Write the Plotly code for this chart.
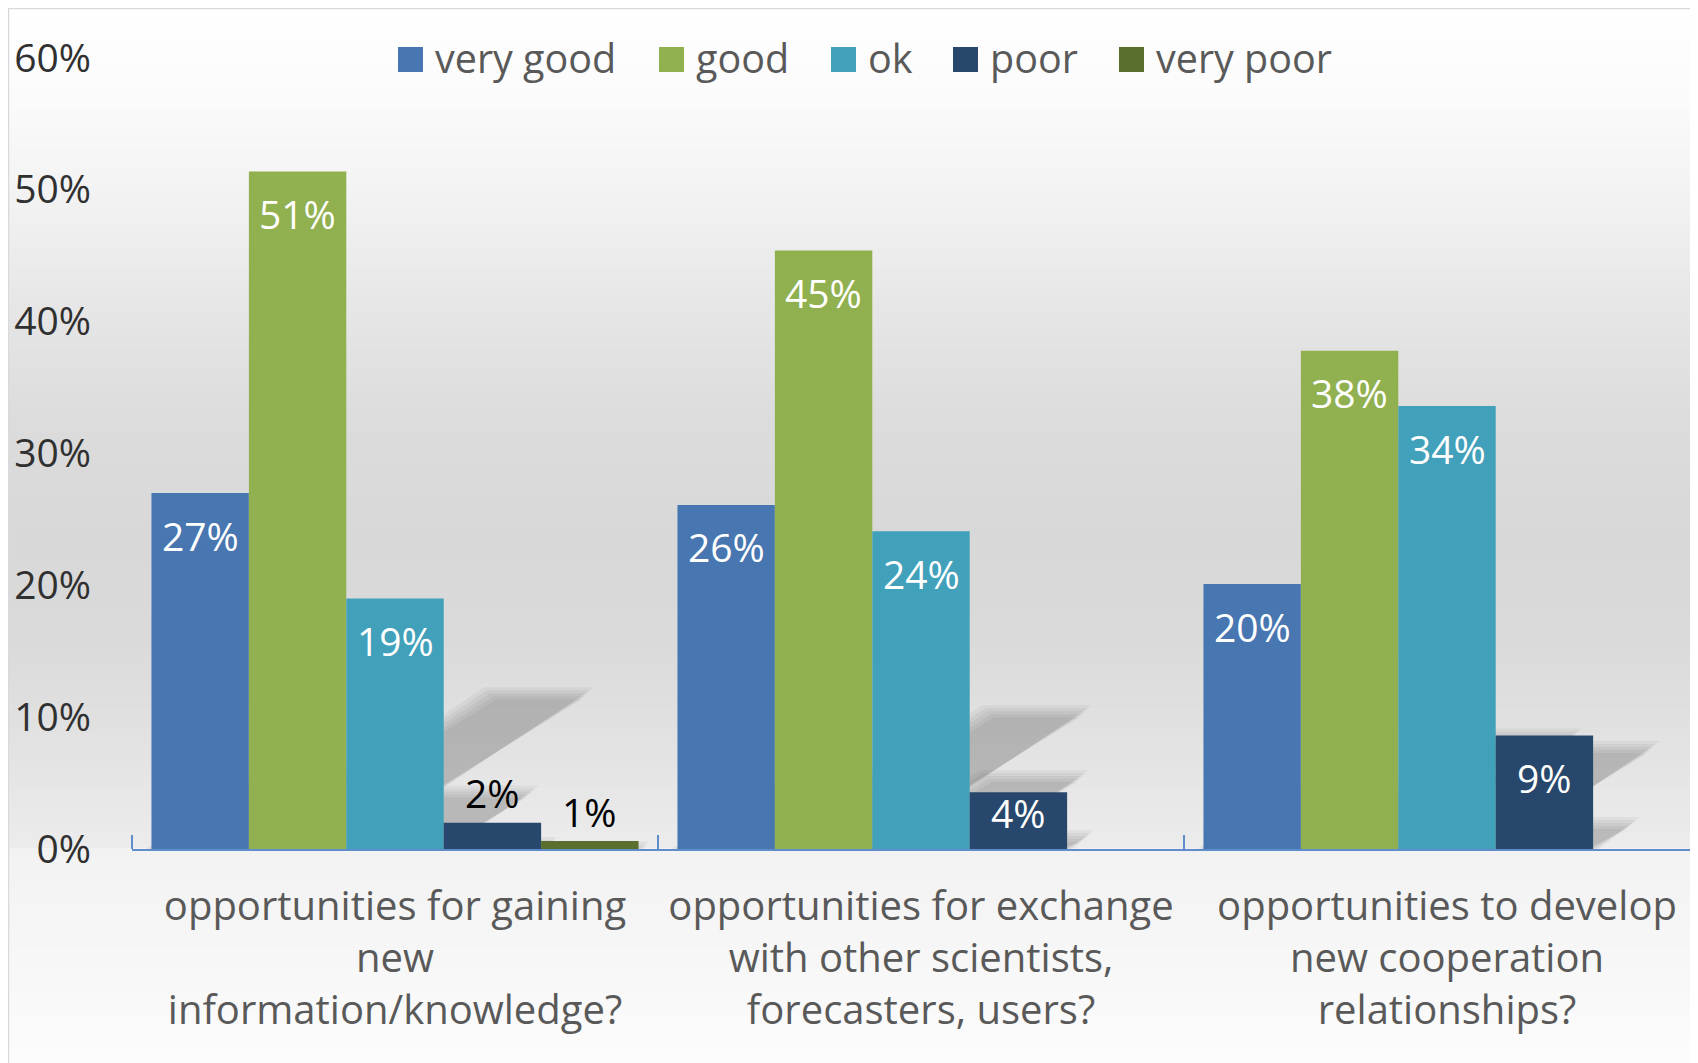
import plotly.graph_objects as go

# ── Data ─────────────────────────────────────────────────────────

categories = [
    "opportunities for gaining<br>new<br>information/knowledge?",
    "opportunities for exchange<br>with other scientists,<br>forecasters, users?",
    "opportunities to develop<br>new cooperation<br>relationships?",
]
series_names = ["very good", "good", "ok", "poor", "very poor"]
very_good = [27.0, 26.1, 20.1]
good = [51.4, 45.4, 37.8]
ok = [19.0, 24.1, 33.6]
poor = [2.0, 4.3, 8.6]
very_poor = [0.6, None, None]
y_ticks = [0, 10, 20, 30, 40, 50, 60]
y_tick_labels = ["0%", "10%", "20%", "30%", "40%", "50%", "60%"]

series_values = [very_good, good, ok, poor, very_poor]
series_colors = ["#4776b1", "#91b04f", "#41a0ba", "#28476c", "#5a6f2e"]

# ── Geometry (page pixels; the page body adds an 8px margin) ────

W, H = 1698, 1063
BODY = 8
PL, PT, PB = 132, 58, 849          # plot left / top / axis line
CAT_PX = 526                       # width of one category
BARGAP = 0.074
N_SER = len(series_names)
SLOT = (1 - BARGAP) / N_SER
PX_Y = (PB - PT) / y_ticks[-1]
FONT = "Open Sans, Segoe UI, sans-serif"


def paper_x(px):
    return (px - PL) / (W - PL)


def paper_y(py):
    return (PB - py) / (PB - PT)


def _gray(py):
    # chart-area gradient: white -> grey -> light, with a step at the axis
    stops = [(0, 255), (100, 251), (200, 242), (300, 231), (420, 220),
             (540, 216), (640, 218), (740, 226), (849, 236)]
    if py > PB:
        stops = [(PB, 242), (960, 247), (1063, 252)]
    for (a, ga), (b, gb) in zip(stops, stops[1:]):
        if a <= py <= b:
            return round(ga + (gb - ga) * (py - a) / (b - a))
    return stops[-1][1]


shapes = []
step = 5
for py in range(8, H, step):
    g = _gray(py + step / 2)
    shapes.append(dict(
        type="rect", xref="paper", yref="paper", layer="below",
        x0=paper_x(8), x1=1.02, y0=paper_y(py + step), y1=paper_y(py),
        fillcolor=f"rgb({g},{g},{g})", line_width=0,
    ))
shapes.append(dict(
    type="rect", xref="paper", yref="paper", layer="below",
    x0=paper_x(8.5), x1=paper_x(1720), y0=paper_y(1080), y1=paper_y(8.5),
    line=dict(color="#d9d9d9", width=1.5), fillcolor="rgba(0,0,0,0)",
))

# perspective shadows of the bars (23% height, skewed to the upper right),
# drawn as a few stacked translucent copies to soften the edges
for j, vals in enumerate(series_values):
    for i, v in enumerate(vals):
        if not v:
            continue
        xl = i + (j - (N_SER - 1) / 2) * SLOT - SLOT / 2
        xr = xl + SLOT
        hs = 0.23 * v
        skew = 1.55 * hs * PX_Y / CAT_PX
        for e in (-6, -3, 0, 3, 6):
            ex = e / CAT_PX
            top = hs + e / PX_Y
            if top <= 0:
                continue
            shapes.append(dict(
                type="path", xref="x", yref="y", layer="below",
                path=(f"M{xl - ex},0 L{xr + ex},0 "
                      f"L{xr + ex + skew},{top} L{xl - ex + skew},{top} Z"),
                fillcolor="rgba(0,0,0,0.045)", line_width=0,
            ))

# ── Figure ───────────────────────────────────────────────────────

x_pos = list(range(len(categories)))
fig = go.Figure()
for name, vals, color in zip(series_names, series_values, series_colors):
    fig.add_trace(go.Bar(
        name=name, x=x_pos, y=vals, marker_color=color,
        marker_line_width=0, showlegend=False, hoverinfo="skip",
    ))

annotations = []
for j, vals in enumerate(series_values):
    for i, v in enumerate(vals):
        if v is None:
            continue
        hp = v * PX_Y
        if hp >= 90:
            shift, col = -42, "white"
        elif hp >= 40:
            shift, col = -20, "white"
        else:
            shift, col = 30, "black"
        annotations.append(dict(
            x=i + (j - (N_SER - 1) / 2) * SLOT, y=v, xref="x", yref="y",
            text=f"{v:.0f}%", showarrow=False, yshift=shift,
            font=dict(family=FONT, size=39, color=col),
        ))

# legend drawn by hand (large square keys, as in the original)
legend_marker_px = [398, 659, 831, 953, 1119]
for name, color, mx in zip(series_names, series_colors, legend_marker_px):
    shapes.append(dict(
        type="rect", xref="paper", yref="paper",
        x0=paper_x(mx), x1=paper_x(mx + 25), y0=paper_y(72), y1=paper_y(47),
        fillcolor=color, line_width=0,
    ))
    annotations.append(dict(
        x=paper_x(mx + 35), y=paper_y(58), xref="paper", yref="paper",
        xanchor="left", yanchor="middle", text=name, showarrow=False,
        font=dict(family=FONT, size=39.5, color="#595959"),
    ))

fig.update_layout(
    width=W - BODY, height=H - BODY,
    barmode="group", bargap=BARGAP, bargroupgap=0,
    paper_bgcolor="white", plot_bgcolor="rgba(0,0,0,0)",
    margin=dict(l=PL - BODY, r=0, t=PT - BODY, b=H - PB),
    shapes=shapes, annotations=annotations,
    showlegend=False,
    xaxis=dict(
        range=[-0.5, -0.5 + (W - PL) / CAT_PX],
        tickmode="array", tickvals=x_pos, ticktext=categories,
        ticks="", showgrid=False, zeroline=False,
        showline=True, linecolor="#5f8dcb", linewidth=2,
        minor=dict(tickmode="array", tickvals=[-0.5, 0.5, 1.5],
                   ticks="inside", ticklen=14, tickwidth=1.5,
                   tickcolor="#5f8dcb", showgrid=False),
        tickfont=dict(family=FONT, size=40, color="#595959"),
        ticklabelstandoff=21,
    ),
    yaxis=dict(
        range=[0, y_ticks[-1]], tickmode="array",
        tickvals=y_ticks, ticktext=y_tick_labels,
        showgrid=False, zeroline=False, showline=False, ticks="",
        tickfont=dict(family=FONT, size=39, color="#303030"),
        ticklabelstandoff=40,
    ),
)

fig.write_html("out.html")
